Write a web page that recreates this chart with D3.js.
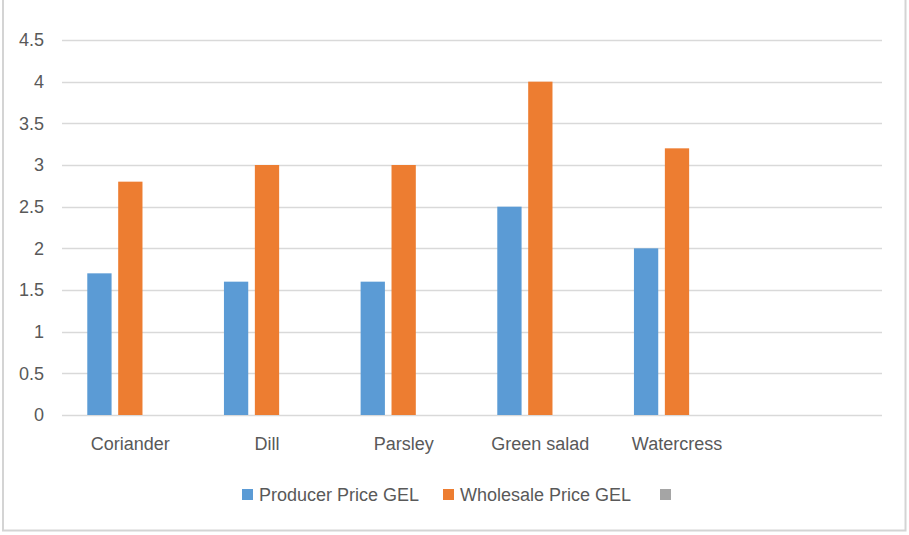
<!DOCTYPE html>
<html>
<head>
<meta charset="utf-8">
<script src="https://cdn.jsdelivr.net/npm/d3@7/dist/d3.min.js"></script>
<style>
  html, body { margin: 0; padding: 0; background: #fff; }
  svg { display: block; }
  text { font-family: "Liberation Sans", Arial, sans-serif; fill: #595959; }
</style>
</head>
<body>
<svg id="chart" width="909" height="535"></svg>
<script>
// Categories (the last slot is an empty category)
const categories = ["Coriander", "Dill", "Parsley", "Green salad", "Watercress", ""];
// Series names (third series has no name and no values)
const seriesNames = ["Producer Price GEL", "Wholesale Price GEL", ""];
const producerPrice = [1.7, 1.6, 1.6, 2.5, 2.0, null];
const wholesalePrice = [2.8, 3.0, 3.0, 4.0, 3.2, null];
const thirdSeries = [null, null, null, null, null, null];
const yTicks = [0, 0.5, 1, 1.5, 2, 2.5, 3, 3.5, 4, 4.5];
const colors = ["#5B9BD5", "#ED7D31", "#A5A5A5"];

const seriesValues = [producerPrice, wholesalePrice, thirdSeries];

const svg = d3.select("#chart");
const W = 909, H = 535;

// outer chart frame
svg.append("rect")
  .attr("x", 3).attr("y", -10)
  .attr("width", W - 6 - 0.5).attr("height", H - 4 + 10 - 0.5)
  .attr("fill", "#fff")
  .attr("stroke", "#D4D4D4")
  .attr("stroke-width", 2);

const plot = { left: 62, right: 882, top: 40, bottom: 415 };

const x = d3.scaleBand()
  .domain(categories)
  .range([plot.left, plot.right])
  .paddingInner(0).paddingOuter(0);

const xs = d3.scaleBand()
  .domain(d3.range(seriesNames.length))
  .range([0, x.bandwidth()])
  .paddingInner(0.214)
  .paddingOuter(0.818);

const y = d3.scaleLinear()
  .domain([0, 4.5])
  .range([plot.bottom, plot.top]);

// horizontal gridlines
svg.append("g")
  .selectAll("line")
  .data(yTicks)
  .join("line")
  .attr("x1", plot.left).attr("x2", plot.right)
  .attr("y1", d => Math.round(y(d)) + 0.5)
  .attr("y2", d => Math.round(y(d)) + 0.5)
  .attr("stroke", "#D9D9D9")
  .attr("stroke-width", 1.3);

// y axis labels
const yAxis = d3.axisLeft(y).tickValues(yTicks).tickSize(0).tickPadding(0)
  .tickFormat(d3.format("~g"));
const gy = svg.append("g")
  .attr("transform", `translate(${plot.left - 18},0)`)
  .call(yAxis);
gy.select(".domain").remove();
gy.selectAll("text")
  .attr("font-size", 18)
  .attr("fill", "#595959")
  .attr("font-family", "'Liberation Sans', Arial, sans-serif");

// x axis labels
const xAxis = d3.axisBottom(x).tickSize(0).tickPadding(0);
const gx = svg.append("g")
  .attr("transform", `translate(0,${plot.bottom + 22})`)
  .call(xAxis);
gx.select(".domain").remove();
gx.selectAll("text")
  .attr("font-size", 18)
  .attr("fill", "#595959")
  .attr("font-family", "'Liberation Sans', Arial, sans-serif");

// bars
const barData = [];
categories.forEach((c, ci) => {
  seriesValues.forEach((vals, si) => {
    if (vals[ci] != null) barData.push({ c, si, v: vals[ci] });
  });
});
svg.append("g")
  .selectAll("rect")
  .data(barData)
  .join("rect")
  .attr("x", d => x(d.c) + xs(d.si))
  .attr("y", d => y(d.v))
  .attr("width", xs.bandwidth())
  .attr("height", d => y(0) - y(d.v))
  .attr("fill", d => colors[d.si]);

// legend
const legendX = [242, 443, 660];
const legend = svg.append("g");
seriesNames.forEach((name, i) => {
  legend.append("rect")
    .attr("x", legendX[i]).attr("y", 489)
    .attr("width", 11).attr("height", 11)
    .attr("fill", colors[i]);
  legend.append("text")
    .attr("x", legendX[i] + 17).attr("y", 501)
    .attr("font-size", 18)
    .text(name);
});
</script>
</body>
</html>
